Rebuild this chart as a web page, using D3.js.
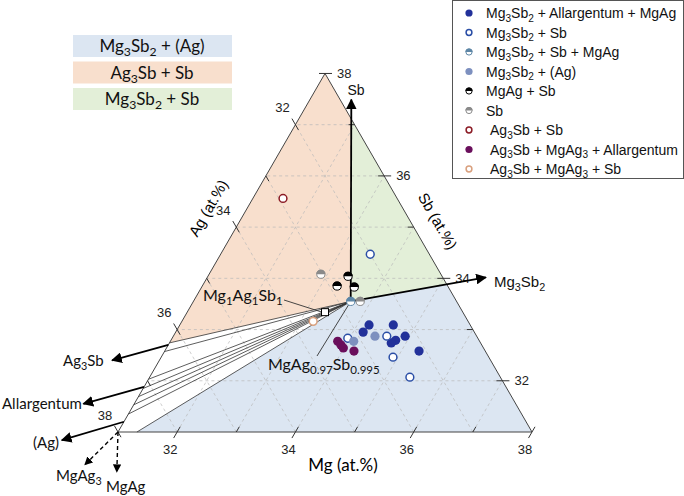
<!DOCTYPE html>
<html>
<head>
<meta charset="utf-8">
<script src="https://cdn.jsdelivr.net/npm/d3@7"></script>
<style>
  body { margin: 0; background: #fff; }
  svg { display: block; }
</style>
</head>
<body>
<svg id="chart" width="684" height="496"></svg>
<script>
// all compositions are [Mg, Ag, Sb] in at.%
const axisMin = 31, axisMax = 38;
const majorTicks = [32, 34, 36, 38];
const minorTicks = [33, 35, 37];
const gridValues = [32, 33, 34, 35, 36, 37];

// measured samples, one array per phase assemblage
const mg3sb2AllargMgag = [[34.20, 32.71, 33.09], [34.61, 32.30, 33.09], [34.17, 32.88, 32.95],
  [34.92, 32.21, 32.87], [34.80, 32.41, 32.79], [34.75, 32.51, 32.74], [35.30, 32.12, 32.58]];
const mg3sb2Sb = [[33.53, 32.00, 34.47], [33.97, 33.20, 32.83], [34.61, 32.52, 32.87],
  [34.92, 32.62, 32.46], [35.40, 32.53, 32.07]];
const mg3sb2SbMgag = [[33.66, 32.79, 33.55]];
const mg3sb2Ag = [[34.10, 33.13, 32.77], [34.41, 32.72, 32.87]];
const mgagSb = [[33.37, 32.59, 34.04], [33.28, 32.87, 33.85], [33.58, 32.59, 33.83]];
const sbOnly = [[32.89, 33.03, 34.08], [33.82, 32.63, 33.55]];
const ag3sbSb = [[31.51, 32.93, 35.56]];
const ag3sbMgag3Allarg = [[33.83, 33.40, 32.77], [33.92, 33.38, 32.70], [33.99, 33.37, 32.64], [34.20, 33.22, 32.58]];
const ag3sbMgag3Sb = [[33.22, 33.62, 33.16]];

// special compositions
const mg1ag1sb1 = [33.33, 33.33, 33.34];
const centre = [33.66, 32.79, 33.55];          // MgAg0.97Sb0.995

// phase-field boundaries
const sbEdge = [31.89, 31.00, 37.11];
const mg3sb2Edge = [35.12, 31.00, 33.88];
const ag3sbEdge = [31.00, 36.26, 32.74];
const bottomEdge = [31.32, 37.68, 31.00];
const topVertex = [31, 31, 38], leftVertex = [31, 38, 31], rightVertex = [38, 31, 31];

// tie lines from the centre to the Ag-rich side (Sb at.% on Mg = 31)
const tieLineSb = [32.57, 32.03, 31.85, 31.69, 31.53, 31.35];

// directions to phases outside the plotted window: [from, to]
const arrowSb = [centre, [31.70, 30.81, 37.49]];
const arrowMg3sb2 = [centre, [35.71, 30.27, 34.02]];
const arrowAg3sb = [[31.00, 36.30, 32.70], [30.20, 37.40, 32.40]];
const arrowAllarg = [[31.00, 37.12, 31.88], [30.14, 38.31, 31.55]];
const arrowAg = [[31.00, 37.80, 31.20], [30.13, 39.03, 30.84]];
const arrowMgag3 = [leftVertex, [30.76, 38.88, 30.36]];
const arrowMgag = [leftVertex, [31.37, 38.41, 30.22]];

const regionNames = ["Mg_{3}Sb_{2} + (Ag)", "Ag_{3}Sb + Sb", "Mg_{3}Sb_{2} + Sb"];
const regionColors = ["#dce6f2", "#f8dfcd", "#e3efd8"];

const svg = d3.select("#chart");
const font = "Liberation Sans, Arial, sans-serif";
const font2 = "Lato, Open Sans, sans-serif";

// triangle geometry
const left = 118, base = 432, side = 414;
const unit = d3.scaleLinear().domain([axisMin, axisMax]).range([0, side]);
const sbY = d3.scaleLinear().domain([axisMin, axisMax]).range([base, base - side * Math.sqrt(3) / 2]);
const px = c => [left + unit(c[0]) + unit(c[2]) / 2, sbY(c[2])];

// text with _{sub} parts
function rich(sel, str, size) {
  let sub = false;
  str.split(/(_\{[^}]*\})/).filter(s => s.length).forEach(p => {
    if (p.startsWith("_{")) {
      sel.append("tspan").attr("font-size", size * 0.72).attr("dy", size * 0.25).text(p.slice(2, -1));
      sub = true;
    } else {
      sel.append("tspan").attr("dy", sub ? -size * 0.25 : 0).text(p);
      sub = false;
    }
  });
}

// arrow heads
const defs = svg.append("defs");
defs.append("marker").attr("id", "head")
  .attr("viewBox", "0 0 10 10").attr("refX", 9).attr("refY", 5)
  .attr("markerWidth", 6).attr("markerHeight", 6).attr("orient", "auto")
  .append("path").attr("d", "M0,0L10,5L0,10Z").attr("fill", "#000");

// phase fields
const poly = d3.line().x(d => px(d)[0]).y(d => px(d)[1]).curve(d3.curveLinearClosed);
const regions = [
  [centre, mg3sb2Edge, rightVertex, bottomEdge],
  [topVertex, sbEdge, centre, ag3sbEdge],
  [sbEdge, mg3sb2Edge, centre]
];
svg.append("g").selectAll("path").data(regions).join("path")
  .attr("d", poly).attr("fill", (d, i) => regionColors[i]);

// grid
const grid = svg.append("g").attr("stroke", "#b9b9b9").attr("stroke-width", 0.7).attr("stroke-dasharray", "3,3");
gridValues.forEach(v => {
  const lines = [
    [[v, 100 - v - axisMin, axisMin], [v, axisMin, 100 - v - axisMin]],
    [[100 - v - axisMin, v, axisMin], [axisMin, v, 100 - v - axisMin]],
    [[100 - v - axisMin, axisMin, v], [axisMin, 100 - v - axisMin, v]]
  ];
  lines.forEach(l => grid.append("line")
    .attr("x1", px(l[0])[0]).attr("y1", px(l[0])[1])
    .attr("x2", px(l[1])[0]).attr("y2", px(l[1])[1]));
});

// tie lines
const ties = svg.append("g").attr("stroke", "#333").attr("stroke-width", 0.8);
tieLineSb.forEach(sb => {
  const a = px([31, 100 - 31 - sb, sb]), b = px(centre);
  ties.append("line").attr("x1", a[0]).attr("y1", a[1]).attr("x2", b[0]).attr("y2", b[1]);
});
[[ag3sbEdge, centre], [bottomEdge, centre]].forEach(([p, q]) => {
  ties.append("line").attr("x1", px(p)[0]).attr("y1", px(p)[1]).attr("x2", px(q)[0]).attr("y2", px(q)[1]);
});

// triangle outline
svg.append("path").attr("d", poly([topVertex, rightVertex, leftVertex]))
  .attr("fill", "none").attr("stroke", "#444").attr("stroke-width", 1);

// ticks and labels
const axes = [
  { pt: v => [v, 100 - v - axisMin, axisMin], out: [-0.5, 0.866], lab: [-7, 17], anchor: "middle" }, // Mg
  { pt: v => [axisMin, v, 100 - v - axisMin], out: [-0.5, -0.866], lab: [-13, -17], anchor: "middle" }, // Ag
  { pt: v => [100 - v - axisMin, axisMin, v], out: [1, 0], lab: [12, 0], anchor: "start" } // Sb
];
const tickG = svg.append("g").attr("stroke", "#333").attr("stroke-width", 1);
axes.forEach(ax => {
  majorTicks.forEach(v => {
    const [x, y] = px(ax.pt(v));
    tickG.append("line").attr("x1", x - ax.out[0] * 6).attr("y1", y - ax.out[1] * 6)
      .attr("x2", x + ax.out[0] * 7).attr("y2", y + ax.out[1] * 7);
    svg.append("text").attr("x", x + ax.lab[0]).attr("y", y + ax.lab[1])
      .attr("text-anchor", ax.anchor).attr("dominant-baseline", "central")
      .attr("font-family", font).attr("font-size", 13).attr("fill", "#222").text(v);
  });
  minorTicks.forEach(v => {
    const [x, y] = px(ax.pt(v));
    tickG.append("line").attr("x1", x).attr("y1", y)
      .attr("x2", x - ax.out[0] * 6).attr("y2", y - ax.out[1] * 6);
  });
});

// axis titles
svg.append("text").attr("x", 343).attr("y", 464).attr("text-anchor", "middle")
  .attr("dominant-baseline", "central").attr("font-family", font2).attr("font-size", 17).text("Mg (at.%)");
svg.append("text").attr("transform", "translate(438,221) rotate(60)").attr("text-anchor", "middle")
  .attr("dominant-baseline", "central").attr("font-family", font).attr("font-size", 15).text("Sb (at.%)");
svg.append("text").attr("transform", "translate(208,208) rotate(-60)").attr("text-anchor", "middle")
  .attr("dominant-baseline", "central").attr("font-family", font).attr("font-size", 15).text("Ag (at.%)");

// arrows
function arrow(pair, width, dash) {
  const a = px(pair[0]), b = px(pair[1]);
  svg.append("line").attr("x1", a[0]).attr("y1", a[1]).attr("x2", b[0]).attr("y2", b[1])
    .attr("stroke", "#000").attr("stroke-width", width)
    .attr("stroke-dasharray", dash || null).attr("marker-end", "url(#head)");
}
arrow(arrowSb, 1.8);
arrow(arrowMg3sb2, 1.8);
arrow(arrowAg3sb, 1.8);
arrow(arrowAllarg, 1.8);
arrow(arrowAg, 1.8);
arrow(arrowMgag3, 1.4, "4,3");
arrow(arrowMgag, 1.4, "4,3");

function label(x, y, str, size, fam, anchor) {
  const t = svg.append("text").attr("x", x).attr("y", y).attr("font-family", fam)
    .attr("font-size", size).attr("text-anchor", anchor || "start").attr("fill", "#111");
  rich(t, str, size);
}
label(356, 95, "Sb", 14, font, "middle");
label(494, 287, "Mg_{3}Sb_{2}", 15, font);
label(63, 366, "Ag_{3}Sb", 15, font2);
label(2, 409, "Allargentum", 15, font2);
label(33, 448, "(Ag)", 15, font2);
label(56, 481, "MgAg_{3}", 15, font2);
label(106, 492, "MgAg", 15, font2);

// leader lines for the two reference compositions
const lead = svg.append("g").attr("stroke", "#333").attr("stroke-width", 0.9);
lead.append("line").attr("x1", 284).attr("y1", 300).attr("x2", px(mg1ag1sb1)[0] - 3).attr("y2", px(mg1ag1sb1)[1]);
lead.append("line").attr("x1", 317).attr("y1", 356).attr("x2", px(centre)[0]).attr("y2", px(centre)[1]);
label(203, 301, "Mg_{1}Ag_{1}Sb_{1}", 16, font2);
label(268, 370, "MgAg_{0.97}Sb_{0.995}", 16, font2);

// marker styles for each series
const series = [
  { name: "Mg_{3}Sb_{2} + Allargentum + MgAg", data: mg3sb2AllargMgag, kind: "filled", color: "#22319a" },
  { name: "Mg_{3}Sb_{2} + Sb", data: mg3sb2Sb, kind: "open", color: "#2a4ea6" },
  { name: "Mg_{3}Sb_{2} + Sb + MgAg", data: mg3sb2SbMgag, kind: "half", color: "#5d86a6" },
  { name: "Mg_{3}Sb_{2} + (Ag)", data: mg3sb2Ag, kind: "filled", color: "#7d90bf" },
  { name: "MgAg + Sb", data: mgagSb, kind: "half", color: "#000" },
  { name: "Sb", data: sbOnly, kind: "half", color: "#8a8a8a" },
  { name: "Ag_{3}Sb + Sb", data: ag3sbSb, kind: "open", color: "#8c1c26" },
  { name: "Ag_{3}Sb + MgAg_{3} + Allargentum", data: ag3sbMgag3Allarg, kind: "filled", color: "#6a0f5c" },
  { name: "Ag_{3}Sb + MgAg_{3} + Sb", data: ag3sbMgag3Sb, kind: "open", color: "#d9a07e" }
];

function drawMarker(g, x, y, s, r) {
  if (s.kind === "filled") {
    g.append("circle").attr("cx", x).attr("cy", y).attr("r", r).attr("fill", s.color);
  } else if (s.kind === "open") {
    g.append("circle").attr("cx", x).attr("cy", y).attr("r", r - 0.7)
      .attr("fill", "#fff").attr("stroke", s.color).attr("stroke-width", 1.5);
  } else {
    g.append("circle").attr("cx", x).attr("cy", y).attr("r", r - 0.5)
      .attr("fill", "#fff").attr("stroke", s.color).attr("stroke-width", 1);
    g.append("path").attr("d", `M${x - r},${y}A${r},${r} 0 0 1 ${x + r},${y}Z`).attr("fill", s.color);
  }
}

// Mg1Ag1Sb1 square
const sq = px(mg1ag1sb1);
svg.append("rect").attr("x", sq[0] - 3.5).attr("y", sq[1] - 3.5).attr("width", 7).attr("height", 7)
  .attr("fill", "#fff").attr("stroke", "#000").attr("stroke-width", 1);

const pts = svg.append("g");
series.forEach(s => s.data.forEach(c => {
  const [x, y] = px(c);
  drawMarker(pts, x, y, s, 4.6);
}));

// legend
const lg = svg.append("g");
lg.append("rect").attr("x", 452.5).attr("y", 0.5).attr("width", 231).attr("height", 178)
  .attr("fill", "#fff").attr("stroke", "#555").attr("stroke-width", 1);
const rowY = d3.scalePoint().domain(d3.range(series.length)).range([13, 169]);
series.forEach((s, i) => {
  drawMarker(lg, 469, rowY(i), s, 3.6);
  const t = lg.append("text").attr("x", i < 6 ? 486 : 490).attr("y", rowY(i) + 5)
    .attr("font-family", font).attr("font-size", 14).attr("fill", "#111");
  rich(t, s.name, 14);
});

// phase-field key boxes
const boxY = d3.scalePoint().domain([0, 1, 2]).range([46, 99]);
regionNames.forEach((n, i) => {
  svg.append("rect").attr("x", 73).attr("y", boxY(i) - 11).attr("width", 159).attr("height", 22)
    .attr("fill", regionColors[i]);
  const t = svg.append("text").attr("x", 152).attr("y", boxY(i) + 6).attr("text-anchor", "middle")
    .attr("font-family", font2).attr("font-size", 17).attr("fill", "#111");
  rich(t, n, 17);
});
</script>
</body>
</html>
